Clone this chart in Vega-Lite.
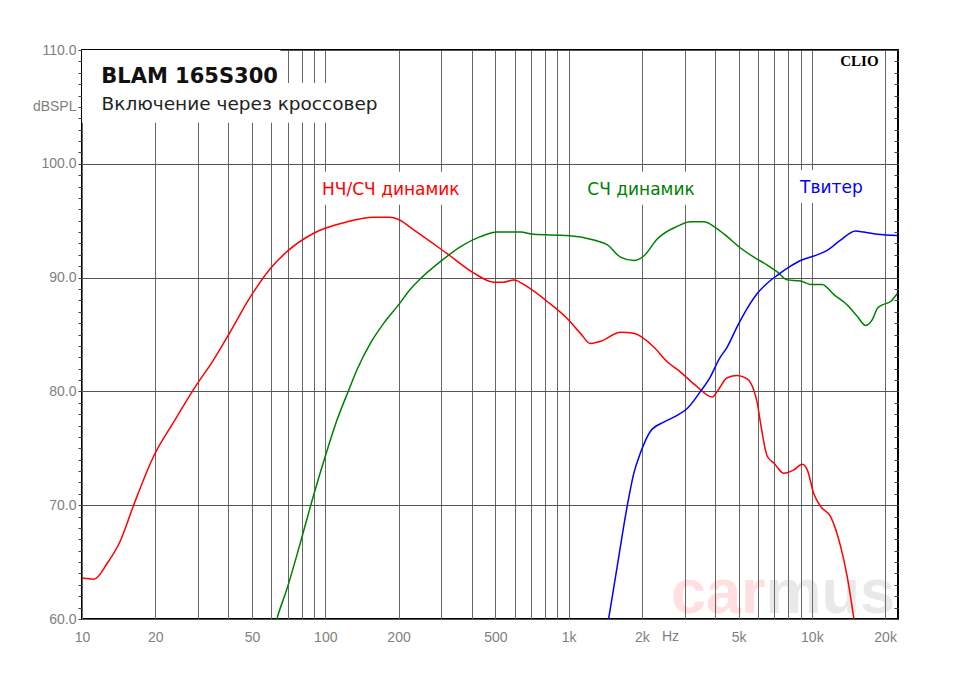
{
  "$schema": "https://vega.github.io/schema/vega-lite/v6.json",
  "width": 816,
  "height": 569,
  "autosize": {"type": "none"},
  "padding": {"left": 82, "top": 50, "right": 62, "bottom": 66},
  "background": "white",
  "config": {"view": {"stroke": "#000", "strokeWidth": 2}},
  "datasets": {
    "curves": [
      {"series": "НЧ/СЧ динамик", "f": 10, "db": 63.6},
      {"series": "НЧ/СЧ динамик", "f": 11.2, "db": 63.5},
      {"series": "НЧ/СЧ динамик", "f": 12.7, "db": 64.9},
      {"series": "НЧ/СЧ динамик", "f": 14.4, "db": 66.9},
      {"series": "НЧ/СЧ динамик", "f": 16.3, "db": 70.0},
      {"series": "НЧ/СЧ динамик", "f": 19.7, "db": 74.3},
      {"series": "НЧ/СЧ динамик", "f": 23.8, "db": 77.3},
      {"series": "НЧ/СЧ динамик", "f": 29.2, "db": 80.4},
      {"series": "НЧ/СЧ динамик", "f": 34.8, "db": 82.8},
      {"series": "НЧ/СЧ динамик", "f": 40.1, "db": 85.0},
      {"series": "НЧ/СЧ динамик", "f": 49.2, "db": 88.3},
      {"series": "НЧ/СЧ динамик", "f": 59.5, "db": 90.8},
      {"series": "НЧ/СЧ динамик", "f": 69.7, "db": 92.3},
      {"series": "НЧ/СЧ динамик", "f": 89.6, "db": 93.9},
      {"series": "НЧ/СЧ динамик", "f": 123, "db": 94.9},
      {"series": "НЧ/СЧ динамик", "f": 158, "db": 95.3},
      {"series": "НЧ/СЧ динамик", "f": 185, "db": 95.3},
      {"series": "НЧ/СЧ динамик", "f": 200, "db": 95.1},
      {"series": "НЧ/СЧ динамик", "f": 231, "db": 94.2},
      {"series": "НЧ/СЧ динамик", "f": 317, "db": 92.1},
      {"series": "НЧ/СЧ динамик", "f": 408, "db": 90.4},
      {"series": "НЧ/СЧ динамик", "f": 492, "db": 89.6},
      {"series": "НЧ/СЧ динамик", "f": 541, "db": 89.6},
      {"series": "НЧ/СЧ динамик", "f": 595, "db": 89.8},
      {"series": "НЧ/СЧ динамик", "f": 676, "db": 89.2},
      {"series": "НЧ/СЧ динамик", "f": 817, "db": 87.9},
      {"series": "НЧ/СЧ динамик", "f": 987, "db": 86.4},
      {"series": "НЧ/СЧ динамик", "f": 1119, "db": 85.1},
      {"series": "НЧ/СЧ динамик", "f": 1230, "db": 84.2},
      {"series": "НЧ/СЧ динамик", "f": 1353, "db": 84.4},
      {"series": "НЧ/СЧ динамик", "f": 1635, "db": 85.2},
      {"series": "НЧ/СЧ динамик", "f": 1854, "db": 85.1},
      {"series": "НЧ/СЧ динамик", "f": 2240, "db": 83.9},
      {"series": "НЧ/СЧ динамик", "f": 2544, "db": 82.6},
      {"series": "НЧ/СЧ динамик", "f": 2885, "db": 81.7},
      {"series": "НЧ/СЧ динамик", "f": 3380, "db": 80.4},
      {"series": "НЧ/СЧ динамик", "f": 3895, "db": 79.5},
      {"series": "НЧ/СЧ динамик", "f": 4083, "db": 80.0},
      {"series": "НЧ/СЧ динамик", "f": 4488, "db": 81.2},
      {"series": "НЧ/СЧ динамик", "f": 4934, "db": 81.4},
      {"series": "НЧ/СЧ динамик", "f": 5425, "db": 81.1},
      {"series": "НЧ/СЧ динамик", "f": 5774, "db": 80.1},
      {"series": "НЧ/СЧ динамик", "f": 5964, "db": 79.0},
      {"series": "НЧ/СЧ динамик", "f": 6155, "db": 77.2},
      {"series": "НЧ/СЧ динамик", "f": 6556, "db": 74.3},
      {"series": "НЧ/СЧ динамик", "f": 6981, "db": 73.7},
      {"series": "НЧ/СЧ динамик", "f": 7673, "db": 72.8},
      {"series": "НЧ/СЧ динамик", "f": 8433, "db": 73.1},
      {"series": "НЧ/СЧ динамик", "f": 9129, "db": 73.6},
      {"series": "НЧ/СЧ динамик", "f": 9574, "db": 73.1},
      {"series": "НЧ/СЧ динамик", "f": 10190, "db": 71.0},
      {"series": "НЧ/СЧ динамик", "f": 10860, "db": 69.9},
      {"series": "НЧ/СЧ динамик", "f": 11940, "db": 69.0},
      {"series": "НЧ/СЧ динамик", "f": 13120, "db": 66.4},
      {"series": "НЧ/СЧ динамик", "f": 13980, "db": 63.7},
      {"series": "НЧ/СЧ динамик", "f": 14880, "db": 60.1},
      {"series": "НЧ/СЧ динамик", "f": 15300, "db": 58.5},
      {"series": "СЧ динамик", "f": 60.5, "db": 58.5},
      {"series": "СЧ динамик", "f": 63.4, "db": 60.1},
      {"series": "СЧ динамик", "f": 69.7, "db": 62.7},
      {"series": "СЧ динамик", "f": 79, "db": 66.7},
      {"series": "СЧ динамик", "f": 89.6, "db": 70.9},
      {"series": "СЧ динамик", "f": 100, "db": 74.3},
      {"series": "СЧ динамик", "f": 111.8, "db": 77.5},
      {"series": "СЧ динамик", "f": 124.8, "db": 80.1},
      {"series": "СЧ динамик", "f": 135, "db": 81.9},
      {"series": "СЧ динамик", "f": 153, "db": 84.2},
      {"series": "СЧ динамик", "f": 174, "db": 86.0},
      {"series": "СЧ динамик", "f": 200, "db": 87.6},
      {"series": "СЧ динамик", "f": 224, "db": 89.0},
      {"series": "СЧ динамик", "f": 246, "db": 89.9},
      {"series": "СЧ динамик", "f": 297, "db": 91.4},
      {"series": "СЧ динамик", "f": 359, "db": 92.7},
      {"series": "СЧ динамик", "f": 434, "db": 93.6},
      {"series": "СЧ динамик", "f": 509, "db": 94.0},
      {"series": "СЧ динамик", "f": 634, "db": 94.0},
      {"series": "СЧ динамик", "f": 719, "db": 93.8},
      {"series": "СЧ динамик", "f": 987, "db": 93.7},
      {"series": "СЧ динамик", "f": 1270, "db": 93.3},
      {"series": "СЧ динамик", "f": 1441, "db": 92.9},
      {"series": "СЧ динамик", "f": 1635, "db": 91.8},
      {"series": "СЧ динамик", "f": 1854, "db": 91.5},
      {"series": "СЧ динамик", "f": 2038, "db": 91.9},
      {"series": "СЧ динамик", "f": 2314, "db": 93.4},
      {"series": "СЧ динамик", "f": 2796, "db": 94.5},
      {"series": "СЧ динамик", "f": 3171, "db": 94.9},
      {"series": "СЧ динамик", "f": 3596, "db": 94.9},
      {"series": "СЧ динамик", "f": 4018, "db": 94.4},
      {"series": "СЧ динамик", "f": 4488, "db": 93.6},
      {"series": "СЧ динамик", "f": 5091, "db": 92.6},
      {"series": "СЧ динамик", "f": 5774, "db": 91.8},
      {"series": "СЧ динамик", "f": 6556, "db": 91.1},
      {"series": "СЧ динамик", "f": 7207, "db": 90.5},
      {"series": "СЧ динамик", "f": 7922, "db": 89.8},
      {"series": "СЧ динамик", "f": 8983, "db": 89.7},
      {"series": "СЧ динамик", "f": 9878, "db": 89.4},
      {"series": "СЧ динамик", "f": 11030, "db": 89.4},
      {"series": "СЧ динамик", "f": 12320, "db": 88.5},
      {"series": "СЧ динамик", "f": 13980, "db": 87.6},
      {"series": "СЧ динамик", "f": 15370, "db": 86.6},
      {"series": "СЧ динамик", "f": 16630, "db": 85.8},
      {"series": "СЧ динамик", "f": 17720, "db": 86.3},
      {"series": "СЧ динамик", "f": 18580, "db": 87.3},
      {"series": "СЧ динамик", "f": 19480, "db": 87.6},
      {"series": "СЧ динамик", "f": 21070, "db": 87.9},
      {"series": "СЧ динамик", "f": 22450, "db": 88.6},
      {"series": "Твитер", "f": 1420, "db": 58.5},
      {"series": "Твитер", "f": 1463, "db": 60.1},
      {"series": "Твитер", "f": 1584, "db": 64.6},
      {"series": "Твитер", "f": 1741, "db": 69.9},
      {"series": "Твитер", "f": 1854, "db": 72.8},
      {"series": "Твитер", "f": 1975, "db": 74.6},
      {"series": "Твитер", "f": 2171, "db": 76.5},
      {"series": "Твитер", "f": 2463, "db": 77.3},
      {"series": "Твитер", "f": 2796, "db": 77.9},
      {"series": "Твитер", "f": 3073, "db": 78.5},
      {"series": "Твитер", "f": 3486, "db": 80.0},
      {"series": "Твитер", "f": 3833, "db": 81.3},
      {"series": "Твитер", "f": 4146, "db": 82.8},
      {"series": "Твитер", "f": 4488, "db": 83.9},
      {"series": "Твитер", "f": 4934, "db": 85.7},
      {"series": "Твитер", "f": 5425, "db": 87.3},
      {"series": "Твитер", "f": 5964, "db": 88.6},
      {"series": "Твитер", "f": 6556, "db": 89.5},
      {"series": "Твитер", "f": 7207, "db": 90.2},
      {"series": "Твитер", "f": 8173, "db": 91.0},
      {"series": "Твитер", "f": 8983, "db": 91.5},
      {"series": "Твитер", "f": 10190, "db": 91.9},
      {"series": "Твитер", "f": 11570, "db": 92.4},
      {"series": "Твитер", "f": 13120, "db": 93.3},
      {"series": "Твитер", "f": 15120, "db": 94.1},
      {"series": "Твитер", "f": 16360, "db": 94.0},
      {"series": "Твитер", "f": 18580, "db": 93.8},
      {"series": "Твитер", "f": 22450, "db": 93.7}
    ],
    "labels": [
      {"series": "НЧ/СЧ динамик", "f": 186, "db": 97.7},
      {"series": "СЧ динамик", "f": 1985, "db": 97.7},
      {"series": "Твитер", "f": 12030, "db": 97.85}
    ],
    "boxes": [
      {"f": 10, "f2": 65.4, "db": 110, "db2": 103.67},
      {"f": 10, "f2": 176, "db": 107.1, "db2": 103.6},
      {"f": 95.5, "f2": 366, "db": 99.3, "db2": 96.4},
      {"f": 1151, "f2": 3421, "db": 99.3, "db2": 96.4},
      {"f": 8570, "f2": 16790, "db": 99.45, "db2": 96.56}
    ],
    "notes": [
      {"role": "title", "text": "BLAM 165S300", "f": 12.0, "db": 107.07},
      {"role": "subtitle", "text": "Включение через кроссовер", "f": 12.03, "db": 104.73},
      {"role": "clio", "text": "CLIO", "f": 18810, "db": 108.62},
      {"role": "unit", "text": "Hz", "f": 2624, "db": 58.42},
      {"role": "wm1", "text": "car", "f": 6453, "db": 60.53},
      {"role": "wm2", "text": "mus", "f": 6453, "db": 60.53}
    ]
  },
  "encoding": {
    "x": {"field": "f", "type": "quantitative", "scale": {"type": "log", "domain": [10, 22600], "nice": false}, "axis": null},
    "y": {"field": "db", "type": "quantitative", "scale": {"domain": [60, 110], "nice": false, "zero": false}, "axis": null}
  },
  "layer": [
    {
      "data": {"name": "notes"},
      "transform": [{"filter": "datum.role == 'wm1'"}],
      "mark": {"type": "text", "font": "Liberation Sans", "fontWeight": "bold", "fontSize": 63, "align": "right", "baseline": "alphabetic", "color": "#ff0000", "opacity": 0.12},
      "encoding": {"text": {"field": "text"}}
    },
    {
      "data": {"name": "notes"},
      "transform": [{"filter": "datum.role == 'wm2'"}],
      "mark": {"type": "text", "font": "Liberation Sans", "fontWeight": "bold", "fontSize": 63, "align": "left", "baseline": "alphabetic", "color": "#888888", "opacity": 0.18},
      "encoding": {"text": {"field": "text"}}
    },
    {
      "data": {"name": "boxes"},
      "mark": {"type": "rect", "color": "white"},
      "encoding": {
        "x2": {"field": "f2"},
        "y": {
          "field": "db", "type": "quantitative",
          "scale": {"domain": [60, 110], "nice": false, "zero": false},
          "axis": {"orient": "right", "values": [60, 61, 62, 63, 64, 65, 66, 67, 68, 69, 70, 71, 72, 73, 74, 75, 76, 77, 78, 79, 80, 81, 82, 83, 84, 85, 86, 87, 88, 89, 90, 91, 92, 93, 94, 95, 96, 97, 98, 99, 100, 101, 102, 103, 104, 105, 106, 107, 108, 109, 110], "labels": false, "grid": false, "domain": false, "tickSize": -4, "tickColor": "#444", "title": null}
        },
        "y2": {"field": "db2"}
      }
    },
    {
      "data": {"name": "curves"},
      "mark": {"type": "line", "clip": true, "strokeWidth": 1.5, "interpolate": "monotone"},
      "encoding": {
        "x": {
          "field": "f", "type": "quantitative",
          "scale": {"type": "log", "domain": [10, 22600], "nice": false},
          "axis": {
            "values": [10, 20, 30, 40, 50, 60, 70, 80, 90, 100, 200, 300, 400, 500, 600, 700, 800, 900, 1000, 2000, 3000, 4000, 5000, 6000, 7000, 8000, 9000, 10000, 20000],
            "labelExpr": "indexof([10, 20, 50, 100, 200, 500, 1000, 2000, 5000, 10000, 20000], datum.value) >= 0 ? (datum.value >= 1000 ? (datum.value / 1000) + 'k' : '' + datum.value) : ''",
            "grid": true, "gridColor": "#666", "gridWidth": 1, "ticks": false, "domain": false,
            "labelFont": "Liberation Sans", "labelFontSize": 14, "labelColor": "#808080", "labelPadding": 11,
            "labelFlush": false, "labelOverlap": false, "title": null
          }
        },
        "y": {
          "field": "db", "type": "quantitative",
          "scale": {"domain": [60, 110], "nice": false, "zero": false},
          "axis": {
            "values": [60, 61, 62, 63, 64, 65, 66, 67, 68, 69, 70, 71, 72, 73, 74, 75, 76, 77, 78, 79, 80, 81, 82, 83, 84, 85, 86, 87, 88, 89, 90, 91, 92, 93, 94, 95, 96, 97, 98, 99, 100, 101, 102, 103, 104, 105, 106, 107, 108, 109, 110],
            "labelExpr": "datum.value % 10 == 0 ? format(datum.value, '.1f') : (datum.value == 105 ? 'dBSPL' : '')",
            "grid": true, "gridColor": "#555",
            "gridOpacity": {"condition": {"test": "datum.value % 10 == 0", "value": 1}, "value": 0},
            "tickSize": 4, "tickColor": "#444", "domain": false,
            "labelFont": "Liberation Sans", "labelFontSize": 14, "labelColor": "#808080", "labelPadding": 2,
            "labelOverlap": false, "labelBound": false, "title": null
          }
        },
        "color": {
          "field": "series", "type": "nominal",
          "scale": {"domain": ["НЧ/СЧ динамик", "СЧ динамик", "Твитер"], "range": ["#ff0000", "#008000", "#0000ff"]},
          "legend": null
        }
      }
    },
    {
      "data": {"name": "labels"},
      "mark": {"type": "text", "font": "DejaVu Sans", "fontSize": 17, "align": "center", "baseline": "middle"},
      "encoding": {
        "text": {"field": "series"},
        "color": {"field": "series", "type": "nominal", "legend": null}
      }
    },
    {
      "data": {"name": "notes"},
      "transform": [{"filter": "datum.role == 'title'"}],
      "mark": {"type": "text", "font": "DejaVu Sans", "fontWeight": "bold", "fontSize": 21, "align": "left", "baseline": "alphabetic", "color": "#111"},
      "encoding": {"text": {"field": "text"}}
    },
    {
      "data": {"name": "notes"},
      "transform": [{"filter": "datum.role == 'subtitle'"}],
      "mark": {"type": "text", "font": "DejaVu Sans", "fontSize": 18.5, "align": "left", "baseline": "alphabetic", "color": "#222"},
      "encoding": {"text": {"field": "text"}}
    },
    {
      "data": {"name": "notes"},
      "transform": [{"filter": "datum.role == 'clio'"}],
      "mark": {"type": "text", "font": "Liberation Serif", "fontWeight": "bold", "fontSize": 15, "align": "right", "baseline": "alphabetic", "color": "#000"},
      "encoding": {"text": {"field": "text"}}
    },
    {
      "data": {"name": "notes"},
      "transform": [{"filter": "datum.role == 'unit'"}],
      "mark": {"type": "text", "font": "Liberation Sans", "fontSize": 14, "align": "center", "baseline": "middle", "color": "#808080"},
      "encoding": {"text": {"field": "text"}}
    }
  ],
  "resolve": {"axis": {"x": "independent", "y": "independent"}}
}
